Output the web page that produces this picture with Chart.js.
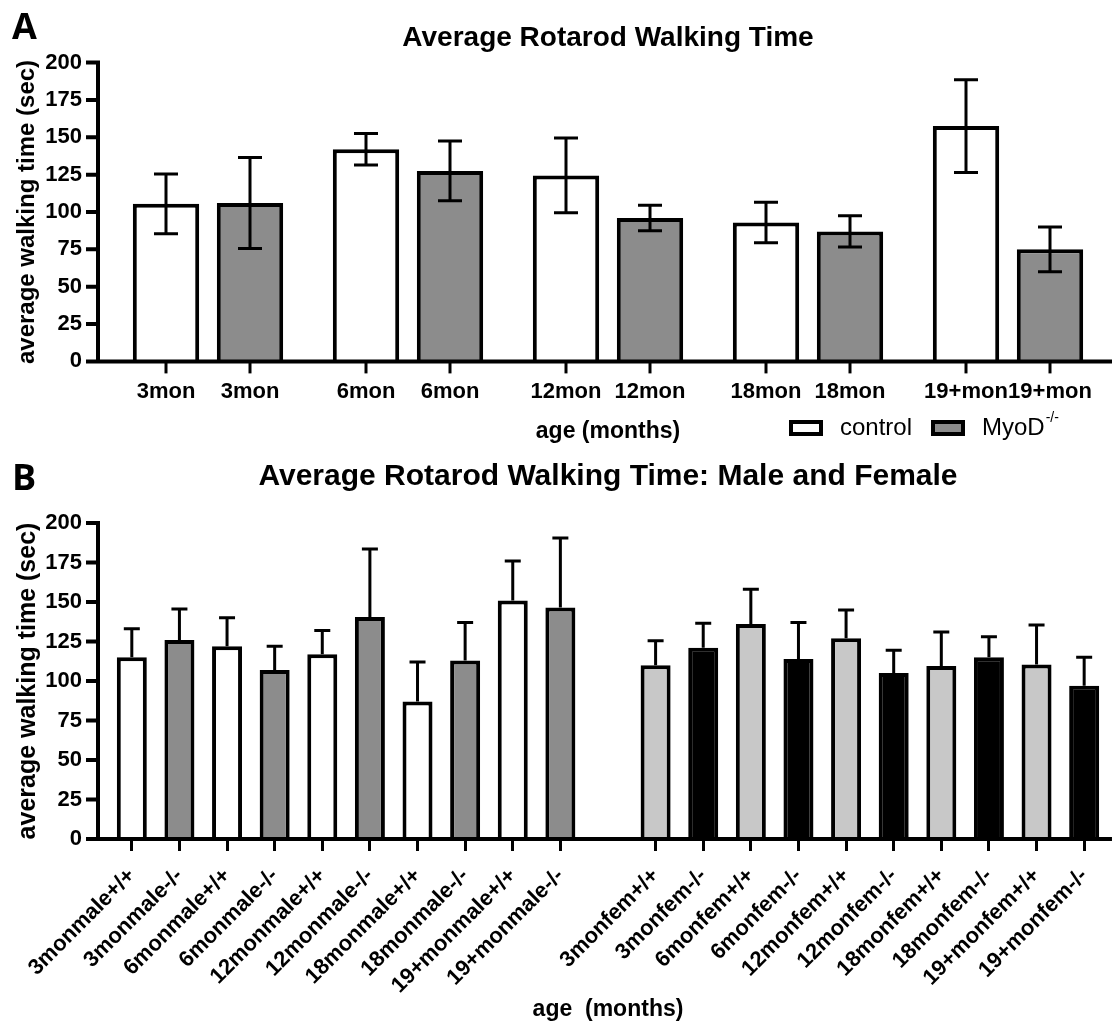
<!DOCTYPE html>
<html>
<head>
<meta charset="utf-8">
<script src="https://cdn.jsdelivr.net/npm/chart.js@4.4.1/dist/chart.umd.min.js"></script>
<style>
body{margin:0;background:#fff;width:1115px;height:1023px;overflow:hidden;position:relative}
.wrap{position:absolute;left:0;width:1115px}
#wa{top:0;height:455px}
#wb{top:455px;height:568px}
.tag{position:absolute;left:12px;font:700 36px "Open Sans";line-height:1;color:#000}
</style>
</head>
<body>
<div class="wrap" id="wa"><canvas id="chartA"></canvas></div>
<div class="wrap" id="wb"><canvas id="chartB"></canvas></div>
<div class="tag" style="top:8px">A</div>
<div class="tag" style="top:459px">B</div>
<script>
// panel A: control vs MyoD-/- by age
const ageGroups = ['3mon', '6mon', '12mon', '18mon', '19+mon'];
const controlMean = [105.5, 142, 124.5, 93, 157.5];
const controlSem = [20, 10.5, 25, 13.5, 31];
const myodMean = [106, 127.5, 96, 87, 75];
const myodSem = [30.5, 20, 8.5, 10.5, 15];

// panel B: split by sex ('' is the gap between males and females)
const sexGroups = ['3monmale+/+', '3monmale-/-', '6monmale+/+', '6monmale-/-', '12monmale+/+', '12monmale-/-',
    '18monmale+/+', '18monmale-/-', '19+monmale+/+', '19+monmale-/-', '',
    '3monfem+/+', '3monfem-/-', '6monfem+/+', '6monfem-/-', '12monfem+/+', '12monfem-/-',
    '18monfem+/+', '18monfem-/-', '19+monfem+/+', '19+monfem-/-'];
const sexMean = [115, 126, 122, 107, 117, 140.5, 87, 113, 151, 146.5, null,
    110, 121, 136, 114, 127, 105, 109.5, 115, 110.5, 97];
const sexSem = [18, 19.5, 18, 15, 15, 43, 25, 24, 25, 44, null,
    15.5, 15.5, 22, 23, 18, 14.5, 21.5, 13, 25, 18];

const yTicks = [0, 25, 50, 75, 100, 125, 150, 175, 200];

Chart.defaults.font.family = '"Liberation Sans", Arial, sans-serif';
Chart.defaults.color = '#000';
Chart.defaults.animation = false;

const GRAY = '#8c8c8c';
const LIGHT = '#c8c8c8';
const AXIS_GAP = 10; // prism-style gap between y axis and first bar slot

function barColour(label) {
    const male = label.includes('male');
    const ko = label.endsWith('-/-');
    if (male) return ko ? GRAY : '#fff';
    return ko ? '#000' : LIGHT;
}

const errorBars = {
    id: 'errorBars',
    afterDatasetsDraw(chart, args, opts) {
        const ctx = chart.ctx;
        const y = chart.scales.y;
        ctx.save();
        ctx.strokeStyle = '#000';
        ctx.lineWidth = opts.width;
        chart.data.datasets.forEach((ds, di) => {
            chart.getDatasetMeta(di).data.forEach((bar, i) => {
                const m = ds.data[i];
                if (m == null) return;
                const e = ds.errors[i];
                const top = y.getPixelForValue(m + e);
                const bot = opts.both ? y.getPixelForValue(m - e) : bar.y;
                const h = opts.cap / 2;
                ctx.beginPath();
                ctx.moveTo(bar.x, top);
                ctx.lineTo(bar.x, bot);
                ctx.moveTo(bar.x - h, top);
                ctx.lineTo(bar.x + h, top);
                if (opts.both) {
                    ctx.moveTo(bar.x - h, bot);
                    ctx.lineTo(bar.x + h, bot);
                }
                ctx.stroke();
            });
        });
        ctx.restore();
    }
};

// y axis line sits a little left of the plot area, x axis runs under it
const detachedAxes = {
    id: 'detachedAxes',
    afterDatasetsDraw(chart) {
        const {ctx, chartArea} = chart;
        const y = chart.scales.y;
        const ax = chartArea.left - AXIS_GAP;
        ctx.save();
        ctx.strokeStyle = '#000';
        ctx.lineWidth = 4;
        ctx.beginPath();
        ctx.moveTo(ax, chartArea.top - 2);
        ctx.lineTo(ax, chartArea.bottom);
        y.ticks.forEach(t => {
            const py = y.getPixelForValue(t.value);
            ctx.moveTo(ax - 12, py);
            ctx.lineTo(ax, py);
        });
        ctx.moveTo(ax - 2, chartArea.bottom);
        ctx.lineTo(chartArea.right + 4, chartArea.bottom);
        ctx.stroke();
        ctx.restore();
    }
};

// labels + ticks under each bar of panel A, and its legend
const barLabels = {
    id: 'barLabels',
    afterDraw(chart) {
        const {ctx, chartArea} = chart;
        ctx.save();
        ctx.strokeStyle = '#000';
        ctx.fillStyle = '#000';
        ctx.lineWidth = 3;
        ctx.font = 'bold 22px "Liberation Sans"';
        ctx.textAlign = 'center';
        ctx.textBaseline = 'middle';
        chart.data.datasets.forEach((ds, di) => {
            chart.getDatasetMeta(di).data.forEach((bar, i) => {
                ctx.beginPath();
                ctx.moveTo(bar.x, chartArea.bottom);
                ctx.lineTo(bar.x, chartArea.bottom + 12);
                ctx.stroke();
                ctx.fillText(chart.data.labels[i], bar.x, chartArea.bottom + 31);
            });
        });

        const ly = 428;
        const lx = [791, 933];
        chart.data.datasets.forEach((ds, di) => {
            const x = lx[di];
            ctx.lineWidth = 4;
            ctx.fillStyle = ds.backgroundColor;
            ctx.fillRect(x, ly - 6, 30, 12);
            ctx.strokeRect(x, ly - 6, 30, 12);
            ctx.fillStyle = '#000';
            ctx.textAlign = 'left';
            ctx.font = '24px "Liberation Sans"';
            const parts = ds.label.match(/^(.*?)(-\/-)?$/);
            ctx.fillText(parts[1], x + 49, ly);
            if (parts[2]) {
                const w = ctx.measureText(parts[1]).width;
                ctx.font = '14px "Liberation Sans"';
                ctx.fillText(parts[2], x + 50 + w, ly - 10);
            }
        });
        ctx.restore();
    }
};

function yScale(tickSize, titleSize) {
    return {
        min: 0,
        max: 200,
        afterBuildTicks: s => { s.ticks = yTicks.map(v => ({value: v})); },
        afterFit: s => { s.width = 108; },
        ticks: {font: {size: tickSize, weight: 'bold'}, padding: 5},
        grid: {drawOnChartArea: false, color: 'rgba(0,0,0,0)', tickLength: 21},
        border: {display: false},
        title: {
            display: true,
            text: 'average walking time (sec)',
            font: {size: titleSize, weight: 'bold'},
            padding: {top: 13, bottom: 0}
        }
    };
}

new Chart(document.getElementById('chartA'), {
    type: 'bar',
    data: {
        labels: ageGroups,
        datasets: [
            {
                label: 'control',
                data: controlMean,
                errors: controlSem,
                backgroundColor: '#fff',
                borderColor: '#000',
                borderWidth: 4
            },
            {
                label: 'MyoD-/-',
                data: myodMean,
                errors: myodSem,
                backgroundColor: GRAY,
                borderColor: '#000',
                borderWidth: 4
            }
        ]
    },
    options: {
        responsive: true,
        maintainAspectRatio: false,
        categoryPercentage: 0.84,
        barPercentage: 0.79,
        layout: {padding: {left: 0, right: 7, top: 0, bottom: 0}},
        scales: {
            x: {
                ticks: {display: false},
                grid: {display: false, drawTicks: false},
                border: {display: false},
                title: {
                    display: true,
                    text: 'age (months)',
                    font: {size: 23, weight: 'bold'},
                    padding: {top: 56, bottom: 10}
                }
            },
            y: yScale(22, 24)
        },
        plugins: {
            legend: {display: false},
            tooltip: {enabled: false},
            title: {
                display: true,
                fullSize: false,
                text: 'Average Rotarod Walking Time',
                font: {size: 28, weight: 'bold'},
                padding: {top: 21, bottom: 8}
            },
            errorBars: {both: true, cap: 24, width: 3}
        }
    },
    plugins: [errorBars, detachedAxes, barLabels]
});

new Chart(document.getElementById('chartB'), {
    type: 'bar',
    data: {
        labels: sexGroups,
        datasets: [{
            label: 'walking time',
            data: sexMean,
            errors: sexSem,
            backgroundColor: sexGroups.map(barColour),
            borderColor: '#000',
            borderWidth: 4
        }]
    },
    options: {
        responsive: true,
        maintainAspectRatio: false,
        categoryPercentage: 1,
        barPercentage: 0.63,
        layout: {padding: {left: 0, right: 7, top: 0, bottom: 0}},
        scales: {
            x: {
                afterFit: s => { s.height = 184; },
                ticks: {
                    font: {size: 22, weight: 'bold'},
                    minRotation: 45,
                    maxRotation: 45,
                    autoSkip: false,
                    padding: 12
                },
                grid: {
                    offset: false,
                    drawOnChartArea: false,
                    tickLength: 12,
                    lineWidth: 3,
                    color: c => (c.tick && c.tick.label === '') ? 'rgba(0,0,0,0)' : '#000'
                },
                border: {display: false},
                title: {
                    display: true,
                    text: 'age  (months)',
                    font: {size: 23, weight: 'bold'},
                    padding: {top: 0, bottom: 0}
                }
            },
            y: yScale(22, 25)
        },
        plugins: {
            legend: {display: false},
            tooltip: {enabled: false},
            title: {
                display: true,
                fullSize: false,
                text: 'Average Rotarod Walking Time: Male and Female',
                font: {size: 30, weight: 'bold'},
                padding: {top: 4, bottom: 28}
            },
            errorBars: {both: false, cap: 16, width: 3}
        }
    },
    plugins: [errorBars, detachedAxes]
});
</script>
</body>
</html>
